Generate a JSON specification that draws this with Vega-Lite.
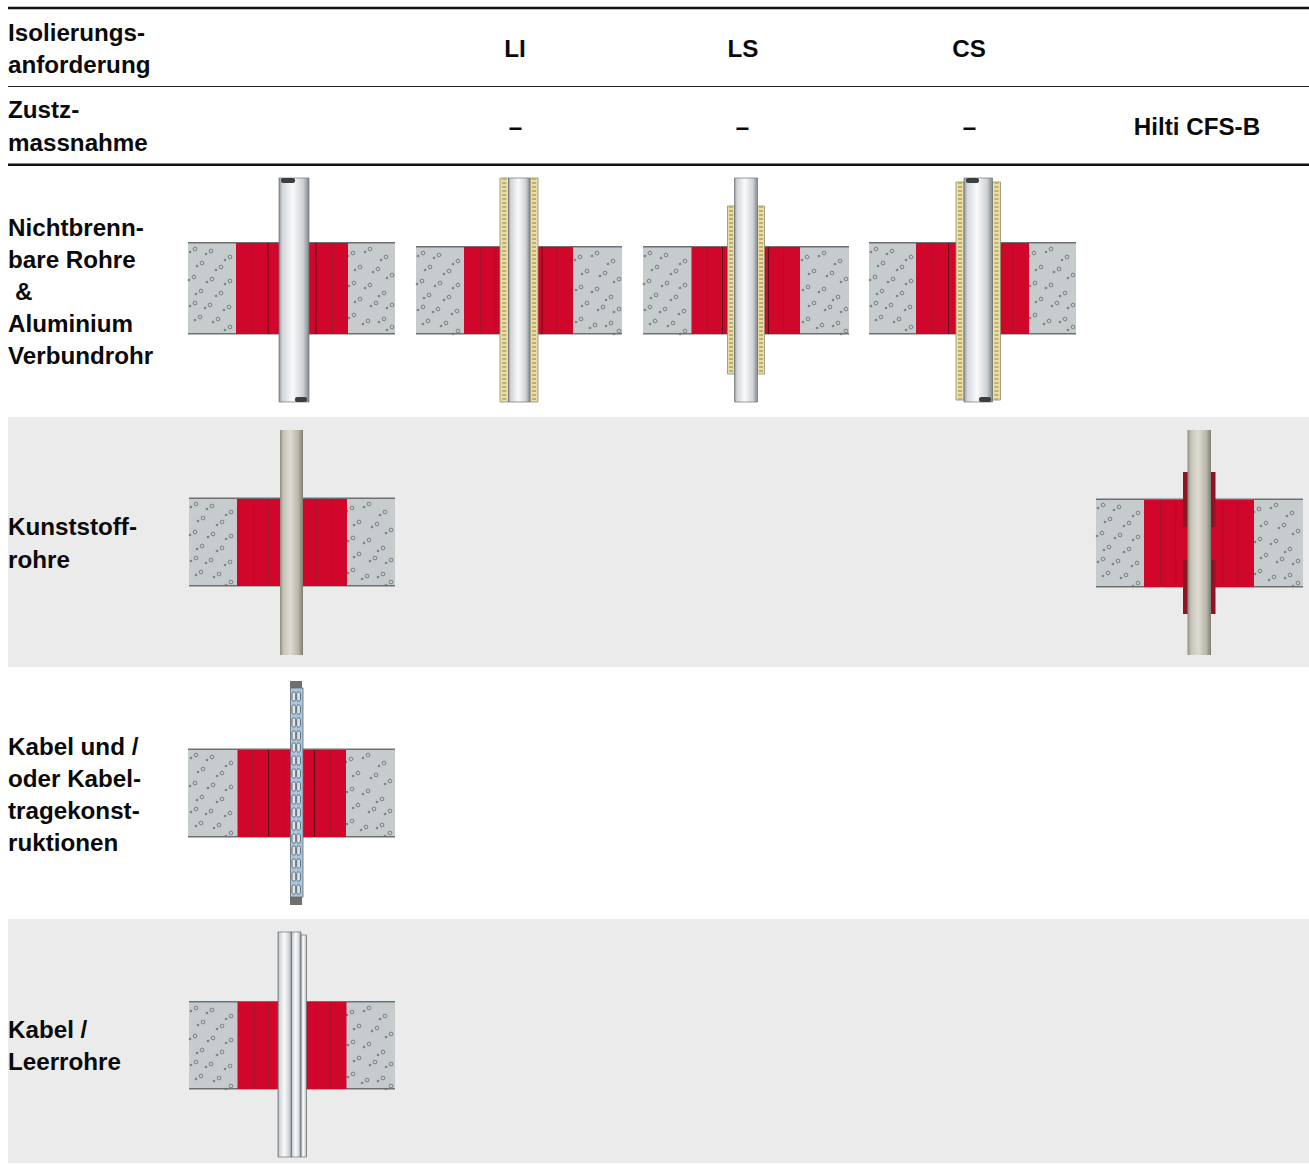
{"$schema":"https://vega.github.io/schema/vega-lite/v6.json","width":1309,"height":1164,"padding":0,"autosize":{"type":"fit","contains":"padding"},"background":"white","config":{"view":{"stroke":null}},
"datasets":{
"base":[
{"part":"band","x":8,"x2":1309,"y":417,"y2":667},{"part":"band","x":8,"x2":1309,"y":919,"y2":1163},
{"part":"concrete","x":188,"x2":395,"y":243,"y2":334},{"part":"concrete","x":416,"x2":622,"y":247,"y2":334},{"part":"concrete","x":643,"x2":849,"y":247,"y2":334},{"part":"concrete","x":869,"x2":1076,"y":243,"y2":334},{"part":"concrete","x":189,"x2":395,"y":498,"y2":586},{"part":"concrete","x":1096,"x2":1303,"y":499,"y2":587},{"part":"concrete","x":188,"x2":395,"y":749,"y2":837},{"part":"concrete","x":189,"x2":395,"y":1002,"y2":1089}
],
"parts":[
{"part":"edge","x":188,"x2":395,"y":242,"y2":243.5},{"part":"edge","x":188,"x2":395,"y":333,"y2":334.5},{"part":"edge","x":416,"x2":622,"y":246,"y2":247.5},{"part":"edge","x":416,"x2":622,"y":333,"y2":334.5},{"part":"edge","x":643,"x2":849,"y":246,"y2":247.5},{"part":"edge","x":643,"x2":849,"y":333,"y2":334.5},{"part":"edge","x":869,"x2":1076,"y":242,"y2":243.5},{"part":"edge","x":869,"x2":1076,"y":333,"y2":334.5},{"part":"edge","x":189,"x2":395,"y":497.5,"y2":499},{"part":"edge","x":189,"x2":395,"y":585,"y2":586.5},{"part":"edge","x":1096,"x2":1303,"y":498.5,"y2":500},{"part":"edge","x":1096,"x2":1303,"y":586,"y2":587.5},{"part":"edge","x":188,"x2":395,"y":748.5,"y2":750},{"part":"edge","x":188,"x2":395,"y":836,"y2":837.5},{"part":"edge","x":189,"x2":395,"y":1001,"y2":1002.5},{"part":"edge","x":189,"x2":395,"y":1088,"y2":1089.5},
{"part":"red","x":236,"x2":348,"y":243,"y2":334},{"part":"red","x":464,"x2":573,"y":247,"y2":334},{"part":"red","x":691.5,"x2":800,"y":247,"y2":334},{"part":"red","x":916,"x2":1029,"y":243,"y2":334},{"part":"red","x":237,"x2":347,"y":499,"y2":586},{"part":"red","x":1144,"x2":1254,"y":500,"y2":587},{"part":"red","x":237.5,"x2":346,"y":750,"y2":837},{"part":"red","x":237.5,"x2":346.5,"y":1002,"y2":1089},
{"part":"sleeve","x":1183,"x2":1215.5,"y":472,"y2":527},{"part":"sleeve","x":1183,"x2":1215.5,"y":560,"y2":614},
{"part":"divider","x":251.5,"x2":252.5,"y":243,"y2":334},{"part":"dividerdark","x":267.5,"x2":268.5,"y":243,"y2":334},{"part":"dividerdark","x":315.5,"x2":316.5,"y":243,"y2":334},{"part":"divider","x":332,"x2":333,"y":243,"y2":334},
{"part":"divider","x":480,"x2":481,"y":247,"y2":334},{"part":"divider","x":495.5,"x2":496.5,"y":247,"y2":334},{"part":"dividerdark","x":541.5,"x2":542.5,"y":247,"y2":334},{"part":"divider","x":556.5,"x2":557.5,"y":247,"y2":334},
{"part":"divider","x":706.5,"x2":707.5,"y":247,"y2":334},{"part":"dividerdark","x":722,"x2":723,"y":247,"y2":334},{"part":"dividerdark","x":768,"x2":769,"y":247,"y2":334},{"part":"divider","x":783,"x2":784,"y":247,"y2":334},
{"part":"divider","x":931.5,"x2":932.5,"y":243,"y2":334},{"part":"dividerdark","x":948,"x2":949,"y":243,"y2":334},{"part":"divider","x":1012.5,"x2":1013.5,"y":243,"y2":334},
{"part":"divider","x":253,"x2":254,"y":499,"y2":586},{"part":"divider","x":268,"x2":269,"y":499,"y2":586},{"part":"divider","x":316,"x2":317,"y":499,"y2":586},{"part":"divider","x":331,"x2":332,"y":499,"y2":586},
{"part":"divider","x":1160,"x2":1161,"y":500,"y2":587},{"part":"divider","x":1175,"x2":1176,"y":500,"y2":587},{"part":"divider","x":1222.5,"x2":1223.5,"y":500,"y2":587},{"part":"divider","x":1237.5,"x2":1238.5,"y":500,"y2":587},
{"part":"divider","x":252,"x2":253,"y":750,"y2":837},{"part":"dividerdark","x":268,"x2":269,"y":750,"y2":837},{"part":"divider","x":283,"x2":284,"y":750,"y2":837},{"part":"dividerdark","x":314,"x2":315,"y":750,"y2":837},{"part":"divider","x":330,"x2":331,"y":750,"y2":837},
{"part":"divider","x":254,"x2":255,"y":1002,"y2":1089},{"part":"divider","x":268,"x2":269,"y":1002,"y2":1089},{"part":"divider","x":315,"x2":316,"y":1002,"y2":1089},{"part":"divider","x":330,"x2":331,"y":1002,"y2":1089},
{"part":"edge","x":290,"x2":302,"y":681,"y2":689},{"part":"edge","x":290,"x2":302,"y":896,"y2":905},
{"part":"rule","x":8,"x2":1309,"y":6.7,"y2":9.2},{"part":"rulethin","x":8,"x2":1309,"y":86,"y2":87},{"part":"rule","x":8,"x2":1309,"y":163.5,"y2":166}
],
"insulation":[
{"x":500,"x2":508.5,"y":178,"y2":402},{"x":530,"x2":538,"y":178,"y2":402},{"x":727.5,"x2":734.5,"y":206,"y2":374},{"x":757.5,"x2":764.5,"y":206,"y2":374},{"x":956,"x2":964,"y":182,"y2":400},{"x":992.5,"x2":1000.5,"y":182,"y2":400}
],
"insulationline":[
{"x":504.2,"y":178,"y2":402},{"x":534,"y":178,"y2":402},{"x":731,"y":206,"y2":374},{"x":761,"y":206,"y2":374},{"x":960,"y":182,"y2":400},{"x":996.5,"y":182,"y2":400}
],
"metal":[
{"x":279,"x2":309,"y":178,"y2":402},{"x":508.5,"x2":530,"y":178,"y2":402},{"x":734.5,"x2":757.5,"y":178,"y2":402},{"x":964,"x2":992.5,"y":178,"y2":402},{"x":278,"x2":292,"y":932,"y2":1157},{"x":291.5,"x2":301,"y":932,"y2":1157},{"x":301,"x2":306.5,"y":935,"y2":1157}
],
"plastic":[
{"x":280,"x2":303,"y":430,"y2":655},{"x":1187.5,"x2":1211,"y":430,"y2":655}
],
"caps":[
{"x":281,"x2":295,"y":178,"y2":183},{"x":295,"x2":307,"y":397,"y2":402},{"x":966,"x2":979,"y":178,"y2":183},{"x":979,"x2":991,"y":397,"y2":402}
],
"channel":[{"x":290.5,"x2":303,"y":688,"y2":897}],
"slots":[
{"x":292,"x2":295.7,"y":692,"y2":701},{"x":296.7,"x2":300.4,"y":692,"y2":701},{"x":292,"x2":295.7,"y":705,"y2":714},{"x":296.7,"x2":300.4,"y":705,"y2":714},{"x":292,"x2":295.7,"y":718,"y2":727},{"x":296.7,"x2":300.4,"y":718,"y2":727},{"x":292,"x2":295.7,"y":731,"y2":740},{"x":296.7,"x2":300.4,"y":731,"y2":740},{"x":292,"x2":295.7,"y":743,"y2":752},{"x":296.7,"x2":300.4,"y":743,"y2":752},{"x":292,"x2":295.7,"y":756,"y2":765},{"x":296.7,"x2":300.4,"y":756,"y2":765},{"x":292,"x2":295.7,"y":769,"y2":778},{"x":296.7,"x2":300.4,"y":769,"y2":778},{"x":292,"x2":295.7,"y":782,"y2":791},{"x":296.7,"x2":300.4,"y":782,"y2":791},{"x":292,"x2":295.7,"y":795,"y2":804},{"x":296.7,"x2":300.4,"y":795,"y2":804},{"x":292,"x2":295.7,"y":808,"y2":817},{"x":296.7,"x2":300.4,"y":808,"y2":817},{"x":292,"x2":295.7,"y":821,"y2":830},{"x":296.7,"x2":300.4,"y":821,"y2":830},{"x":292,"x2":295.7,"y":834,"y2":843},{"x":296.7,"x2":300.4,"y":834,"y2":843},{"x":292,"x2":295.7,"y":846,"y2":855},{"x":296.7,"x2":300.4,"y":846,"y2":855},{"x":292,"x2":295.7,"y":859,"y2":868},{"x":296.7,"x2":300.4,"y":859,"y2":868},{"x":292,"x2":295.7,"y":872,"y2":881},{"x":296.7,"x2":300.4,"y":872,"y2":881},{"x":292,"x2":295.7,"y":885,"y2":894},{"x":296.7,"x2":300.4,"y":885,"y2":894}
],
"dots":[
{"x":195,"y":249},{"x":211,"y":251},{"x":230,"y":257},{"x":202,"y":263},{"x":221,"y":267},{"x":194,"y":277},{"x":212,"y":279},{"x":230,"y":281},{"x":201,"y":291},{"x":221,"y":293},{"x":195,"y":303},{"x":210,"y":305},{"x":229,"y":307},{"x":200,"y":317},{"x":218,"y":319},{"x":230,"y":327},
{"x":353,"y":253},{"x":370,"y":249},{"x":386,"y":257},{"x":360,"y":267},{"x":378,"y":269},{"x":392,"y":275},{"x":354,"y":283},{"x":370,"y":285},{"x":384,"y":293},{"x":360,"y":299},{"x":376,"y":303},{"x":392,"y":305},{"x":354,"y":315},{"x":368,"y":321},{"x":384,"y":319},{"x":392,"y":327},
{"x":423,"y":253},{"x":439,"y":255},{"x":458,"y":261},{"x":430,"y":267},{"x":449,"y":271},{"x":422,"y":281},{"x":440,"y":283},{"x":458,"y":285},{"x":429,"y":295},{"x":449,"y":297},{"x":423,"y":307},{"x":438,"y":309},{"x":457,"y":311},{"x":428,"y":321},{"x":446,"y":323},{"x":458,"y":331},
{"x":580,"y":257},{"x":597,"y":253},{"x":613,"y":261},{"x":587,"y":271},{"x":605,"y":273},{"x":619,"y":279},{"x":581,"y":287},{"x":597,"y":289},{"x":611,"y":297},{"x":587,"y":303},{"x":603,"y":307},{"x":619,"y":309},{"x":581,"y":319},{"x":595,"y":325},{"x":611,"y":323},{"x":619,"y":331},
{"x":650,"y":253},{"x":666,"y":255},{"x":685,"y":261},{"x":657,"y":267},{"x":676,"y":271},{"x":649,"y":281},{"x":667,"y":283},{"x":685,"y":285},{"x":656,"y":295},{"x":676,"y":297},{"x":650,"y":307},{"x":665,"y":309},{"x":684,"y":311},{"x":655,"y":321},{"x":673,"y":323},{"x":685,"y":331},
{"x":807,"y":257},{"x":824,"y":253},{"x":840,"y":261},{"x":814,"y":271},{"x":832,"y":273},{"x":846,"y":279},{"x":808,"y":287},{"x":824,"y":289},{"x":838,"y":297},{"x":814,"y":303},{"x":830,"y":307},{"x":846,"y":309},{"x":808,"y":319},{"x":822,"y":325},{"x":838,"y":323},{"x":846,"y":331},
{"x":876,"y":249},{"x":892,"y":251},{"x":911,"y":257},{"x":883,"y":263},{"x":902,"y":267},{"x":875,"y":277},{"x":893,"y":279},{"x":911,"y":281},{"x":882,"y":291},{"x":902,"y":293},{"x":876,"y":303},{"x":891,"y":305},{"x":910,"y":307},{"x":881,"y":317},{"x":899,"y":319},{"x":911,"y":327},
{"x":1034,"y":253},{"x":1051,"y":249},{"x":1067,"y":257},{"x":1041,"y":267},{"x":1059,"y":269},{"x":1073,"y":275},{"x":1035,"y":283},{"x":1051,"y":285},{"x":1065,"y":293},{"x":1041,"y":299},{"x":1057,"y":303},{"x":1073,"y":305},{"x":1035,"y":315},{"x":1049,"y":321},{"x":1065,"y":319},{"x":1073,"y":327},
{"x":196,"y":504},{"x":212,"y":506},{"x":231,"y":512},{"x":203,"y":518},{"x":222,"y":522},{"x":195,"y":532},{"x":213,"y":534},{"x":231,"y":536},{"x":202,"y":546},{"x":222,"y":548},{"x":196,"y":558},{"x":211,"y":560},{"x":230,"y":562},{"x":201,"y":572},{"x":219,"y":574},{"x":231,"y":582},
{"x":352,"y":508},{"x":369,"y":504},{"x":385,"y":512},{"x":359,"y":522},{"x":377,"y":524},{"x":391,"y":530},{"x":353,"y":538},{"x":369,"y":540},{"x":383,"y":548},{"x":359,"y":554},{"x":375,"y":558},{"x":391,"y":560},{"x":353,"y":570},{"x":367,"y":576},{"x":383,"y":574},{"x":391,"y":582},
{"x":1103,"y":505},{"x":1119,"y":507},{"x":1138,"y":513},{"x":1110,"y":519},{"x":1129,"y":523},{"x":1102,"y":533},{"x":1120,"y":535},{"x":1138,"y":537},{"x":1109,"y":547},{"x":1129,"y":549},{"x":1103,"y":559},{"x":1118,"y":561},{"x":1137,"y":563},{"x":1108,"y":573},{"x":1126,"y":575},{"x":1138,"y":583},
{"x":1259,"y":509},{"x":1276,"y":505},{"x":1292,"y":513},{"x":1266,"y":523},{"x":1284,"y":525},{"x":1298,"y":531},{"x":1260,"y":539},{"x":1276,"y":541},{"x":1290,"y":549},{"x":1266,"y":555},{"x":1282,"y":559},{"x":1298,"y":561},{"x":1260,"y":571},{"x":1274,"y":577},{"x":1290,"y":575},{"x":1298,"y":583},
{"x":196,"y":755},{"x":212,"y":757},{"x":231,"y":763},{"x":203,"y":769},{"x":222,"y":773},{"x":195,"y":783},{"x":213,"y":785},{"x":231,"y":787},{"x":202,"y":797},{"x":222,"y":799},{"x":196,"y":809},{"x":211,"y":811},{"x":230,"y":813},{"x":201,"y":823},{"x":219,"y":825},{"x":231,"y":833},
{"x":351,"y":759},{"x":368,"y":755},{"x":384,"y":763},{"x":358,"y":773},{"x":376,"y":775},{"x":390,"y":781},{"x":352,"y":789},{"x":368,"y":791},{"x":382,"y":799},{"x":358,"y":805},{"x":374,"y":809},{"x":390,"y":811},{"x":352,"y":821},{"x":366,"y":827},{"x":382,"y":825},{"x":390,"y":833},
{"x":196,"y":1008},{"x":212,"y":1010},{"x":231,"y":1016},{"x":203,"y":1022},{"x":222,"y":1026},{"x":195,"y":1036},{"x":213,"y":1038},{"x":231,"y":1040},{"x":202,"y":1050},{"x":222,"y":1052},{"x":196,"y":1062},{"x":211,"y":1064},{"x":230,"y":1066},{"x":201,"y":1076},{"x":219,"y":1078},{"x":231,"y":1086},
{"x":352,"y":1012},{"x":369,"y":1008},{"x":385,"y":1016},{"x":359,"y":1026},{"x":377,"y":1028},{"x":391,"y":1034},{"x":353,"y":1042},{"x":369,"y":1044},{"x":383,"y":1052},{"x":359,"y":1058},{"x":375,"y":1062},{"x":391,"y":1064},{"x":353,"y":1074},{"x":367,"y":1080},{"x":383,"y":1078},{"x":391,"y":1086}
],
"leftlabels":[
{"x":8,"y":41,"label":"Isolierungs-"},{"x":8,"y":73,"label":"anforderung"},{"x":8,"y":118,"label":"Zustz-"},{"x":8,"y":150.5,"label":"massnahme"},
{"x":8,"y":235.5,"label":"Nichtbrenn-"},{"x":8,"y":267.5,"label":"bare Rohre"},{"x":15,"y":300,"label":"&"},{"x":8,"y":332,"label":"Aluminium"},{"x":8,"y":364,"label":"Verbundrohr"},
{"x":8,"y":535,"label":"Kunststoff-"},{"x":8,"y":567.5,"label":"rohre"},
{"x":8,"y":754.5,"label":"Kabel und /"},{"x":8,"y":786.5,"label":"oder Kabel-"},{"x":8,"y":818.5,"label":"tragekonst-"},{"x":8,"y":851,"label":"ruktionen"},
{"x":8,"y":1037.5,"label":"Kabel /"},{"x":8,"y":1070,"label":"Leerrohre"}
],
"headlabels":[
{"x":515,"y":57,"label":"LI"},{"x":743,"y":57,"label":"LS"},{"x":969,"y":57,"label":"CS"},
{"x":515.5,"y":135,"label":"–"},{"x":742.5,"y":135,"label":"–"},{"x":969.5,"y":135,"label":"–"},{"x":1197,"y":135,"label":"Hilti CFS-B"}
]
},
"encoding":{
"x":{"field":"x","type":"quantitative","axis":null,"scale":{"domain":[0,1309],"nice":false,"zero":false}},
"y":{"field":"y","type":"quantitative","axis":null,"scale":{"domain":[0,1164],"reverse":true,"nice":false,"zero":false}}
},
"layer":[
{"data":{"name":"base"},"mark":{"type":"rect"},"encoding":{"x2":{"field":"x2"},"y2":{"field":"y2"},"color":{"field":"part","type":"nominal","legend":null,"scale":{"domain":["band","concrete","edge","red","sleeve","divider","dividerdark","rule","rulethin"],"range":["#ebebeb","#c6cbce","#6e7070","#d0062b","#8d1526","#a5142c","#5e0c18","#111111","#222222"]}}}},
{"data":{"name":"dots"},"mark":{"type":"point","filled":false,"size":14,"stroke":"#5c6165","strokeWidth":1},"encoding":{}},
{"data":{"name":"dots"},"mark":{"type":"circle","size":7,"fill":"#5f6468","xOffset":-5,"yOffset":3},"encoding":{}},
{"data":{"name":"parts"},"mark":{"type":"rect"},"encoding":{"x2":{"field":"x2"},"y2":{"field":"y2"},"color":{"field":"part","type":"nominal","legend":null,"scale":{"domain":["band","concrete","edge","red","sleeve","divider","dividerdark","rule","rulethin"],"range":["#ebebeb","#c6cbce","#6e7070","#d0062b","#8d1526","#a5142c","#5e0c18","#111111","#222222"]}}}},
{"data":{"name":"insulation"},"mark":{"type":"rect","fill":"#e9dfa6","stroke":"#8e8c72","strokeWidth":0.8},"encoding":{"x2":{"field":"x2"},"y2":{"field":"y2"}}},
{"data":{"name":"insulationline"},"mark":{"type":"rule","color":"#bfae6c","strokeWidth":4,"strokeDash":[2,2]},"encoding":{"y2":{"field":"y2"}}},
{"data":{"name":"metal"},"mark":{"type":"rect","stroke":"#6c7277","strokeWidth":0.7,"fill":{"gradient":"linear","x1":0,"y1":0,"x2":1,"y2":0,"stops":[{"offset":0,"color":"#8a9095"},{"offset":0.1,"color":"#d0d4d7"},{"offset":0.45,"color":"#fafafb"},{"offset":0.8,"color":"#cfd3d6"},{"offset":1,"color":"#81878c"}]}},"encoding":{"x2":{"field":"x2"},"y2":{"field":"y2"}}},
{"data":{"name":"plastic"},"mark":{"type":"rect","fill":{"gradient":"linear","x1":0,"y1":0,"x2":1,"y2":0,"stops":[{"offset":0,"color":"#8f8c80"},{"offset":0.15,"color":"#c6c3b8"},{"offset":0.45,"color":"#dedbd2"},{"offset":0.8,"color":"#b8b5a9"},{"offset":1,"color":"#7f7c70"}]}},"encoding":{"x2":{"field":"x2"},"y2":{"field":"y2"}}},
{"data":{"name":"caps"},"mark":{"type":"rect","fill":"#3c3f42","cornerRadius":2},"encoding":{"x2":{"field":"x2"},"y2":{"field":"y2"}}},
{"data":{"name":"channel"},"mark":{"type":"rect","fill":"#a9c6de","stroke":"#5d6a74","strokeWidth":0.8},"encoding":{"x2":{"field":"x2"},"y2":{"field":"y2"}}},
{"data":{"name":"slots"},"mark":{"type":"rect","fill":"#dde6ec","stroke":"#4a5258","strokeWidth":0.8,"cornerRadius":1.5},"encoding":{"x2":{"field":"x2"},"y2":{"field":"y2"}}},
{"data":{"name":"leftlabels"},"mark":{"type":"text","align":"left","baseline":"alphabetic","font":"Liberation Sans","fontWeight":700,"fontSize":24.2,"color":"#0a0a0a"},"encoding":{"text":{"field":"label"}}},
{"data":{"name":"headlabels"},"mark":{"type":"text","align":"center","baseline":"alphabetic","font":"Liberation Sans","fontWeight":700,"fontSize":24.2,"color":"#0a0a0a"},"encoding":{"text":{"field":"label"}}}
]}
